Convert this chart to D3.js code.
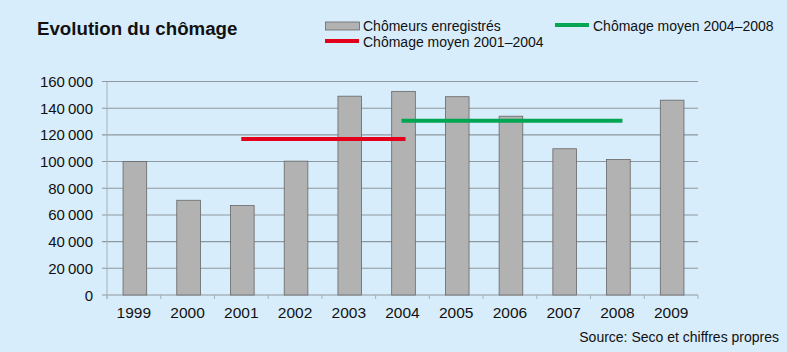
<!DOCTYPE html>
<html>
<head>
<meta charset="utf-8">
<script src="https://cdn.jsdelivr.net/npm/d3@7"></script>
<style>
  html, body { margin: 0; padding: 0; background: #d8edfb; }
  svg { display: block; font-family: "Liberation Sans", Arial, sans-serif; }
</style>
</head>
<body>
<div id="chart-area"></div>
<script>
// data
var years = ["1999", "2000", "2001", "2002", "2003", "2004", "2005", "2006", "2007", "2008", "2009"];
var chomeurs = [100000, 71000, 67000, 100300, 149000, 152600, 148600, 134000, 109600, 101600, 146000];
var moyen0104 = { from: "2001", to: "2004", value: 117000 };
var moyen0408 = { from: "2004", to: "2008", value: 130600 };
var yTicks = [0, 20000, 40000, 60000, 80000, 100000, 120000, 140000, 160000];

var W = 787, H = 352;
var margin = { left: 107, right: 89, top: 81.5, bottom: 57 };
var width = W - margin.left - margin.right;
var height = H - margin.top - margin.bottom;

var svg = d3.select("#chart-area")
    .append("svg")
    .attr("width", W)
    .attr("height", H);

svg.append("rect")
    .attr("width", W)
    .attr("height", H)
    .attr("fill", "#d8edfb");

var g = svg.append("g")
    .attr("transform", "translate(" + margin.left + "," + margin.top + ")");

var x = d3.scaleBand()
    .domain(years)
    .range([0, width])
    .paddingInner(0.56)
    .paddingOuter(0.28);

var y = d3.scaleLinear()
    .domain([0, 160000])
    .range([height, 0]);

// band edges for x ticks
var step = x.step();
var fmt = function (d) { return d3.format(",")(d).replace(/,/g, "\u2009"); };

// gridlines
g.selectAll(".grid")
    .data(yTicks)
    .enter()
    .append("line")
    .attr("x1", -5)
    .attr("x2", width)
    .attr("y1", function (d) { return y(d); })
    .attr("y2", function (d) { return y(d); })
    .attr("stroke", "#8e979e")
    .attr("stroke-width", 1.1);

// y axis line
g.append("line")
    .attr("x1", 0).attr("x2", 0)
    .attr("y1", 0).attr("y2", height + 4)
    .attr("stroke", "#a6b0b8")
    .attr("stroke-width", 1);

// y labels
g.selectAll(".ylab")
    .data(yTicks)
    .enter()
    .append("text")
    .attr("x", -14)
    .attr("y", function (d) { return y(d) + 5.5; })
    .attr("text-anchor", "end")
    .attr("font-size", "15px")
    .attr("fill", "#111")
    .text(fmt);

// x ticks at band edges
g.selectAll(".xtick")
    .data(d3.range(years.length + 1))
    .enter()
    .append("line")
    .attr("x1", function (i) { return i * step; })
    .attr("x2", function (i) { return i * step; })
    .attr("y1", height)
    .attr("y2", height + 4)
    .attr("stroke", "#a6b0b8")
    .attr("stroke-width", 1);

// bars
g.selectAll(".bar")
    .data(chomeurs)
    .enter()
    .append("rect")
    .attr("x", function (d, i) { return x(years[i]) + 1; })
    .attr("y", function (d) { return y(d); })
    .attr("width", x.bandwidth())
    .attr("height", function (d) { return height - y(d); })
    .attr("fill", "#b2b2b2")
    .attr("stroke", "#666")
    .attr("stroke-width", 0.8);

// average lines
var centre = function (yr) { return x(yr) + x.bandwidth() / 2; };
g.append("line")
    .attr("x1", centre(moyen0104.from))
    .attr("x2", centre(moyen0104.to) + 3)
    .attr("y1", y(moyen0104.value))
    .attr("y2", y(moyen0104.value))
    .attr("stroke", "#e2001a")
    .attr("stroke-width", 4);

g.append("line")
    .attr("x1", centre(moyen0408.from) - 1)
    .attr("x2", centre(moyen0408.to) + 5)
    .attr("y1", y(moyen0408.value))
    .attr("y2", y(moyen0408.value))
    .attr("stroke", "#00a651")
    .attr("stroke-width", 4);

// x labels
g.selectAll(".xlab")
    .data(years)
    .enter()
    .append("text")
    .attr("x", function (d) { return centre(d); })
    .attr("y", height + 23)
    .attr("text-anchor", "middle")
    .attr("font-size", "15.5px")
    .attr("fill", "#111")
    .text(function (d) { return d; });

// title
svg.append("text")
    .attr("x", 37)
    .attr("y", 35)
    .attr("font-size", "18.7px")
    .attr("font-weight", "bold")
    .attr("fill", "#111")
    .text("Evolution du chômage");

// legend
var legend = svg.append("g");
legend.append("rect")
    .attr("x", 325.5).attr("y", 22)
    .attr("width", 34).attr("height", 8)
    .attr("fill", "#b2b2b2")
    .attr("stroke", "#666")
    .attr("stroke-width", 0.8);
legend.append("text")
    .attr("x", 363).attr("y", 31)
    .attr("font-size", "14px")
    .attr("fill", "#111")
    .text("Chômeurs enregistrés");

legend.append("line")
    .attr("x1", 325).attr("x2", 359)
    .attr("y1", 41).attr("y2", 41)
    .attr("stroke", "#e2001a")
    .attr("stroke-width", 4);
legend.append("text")
    .attr("x", 363).attr("y", 47)
    .attr("font-size", "14px")
    .attr("fill", "#111")
    .text("Chômage moyen 2001–2004");

legend.append("line")
    .attr("x1", 555).attr("x2", 589)
    .attr("y1", 25).attr("y2", 25)
    .attr("stroke", "#00a651")
    .attr("stroke-width", 4);
legend.append("text")
    .attr("x", 593).attr("y", 31)
    .attr("font-size", "14px")
    .attr("fill", "#111")
    .text("Chômage moyen 2004–2008");

// source
svg.append("text")
    .attr("x", 779)
    .attr("y", 342)
    .attr("text-anchor", "end")
    .attr("font-size", "14px")
    .attr("fill", "#111")
    .text("Source: Seco et chiffres propres");
</script>
</body>
</html>
